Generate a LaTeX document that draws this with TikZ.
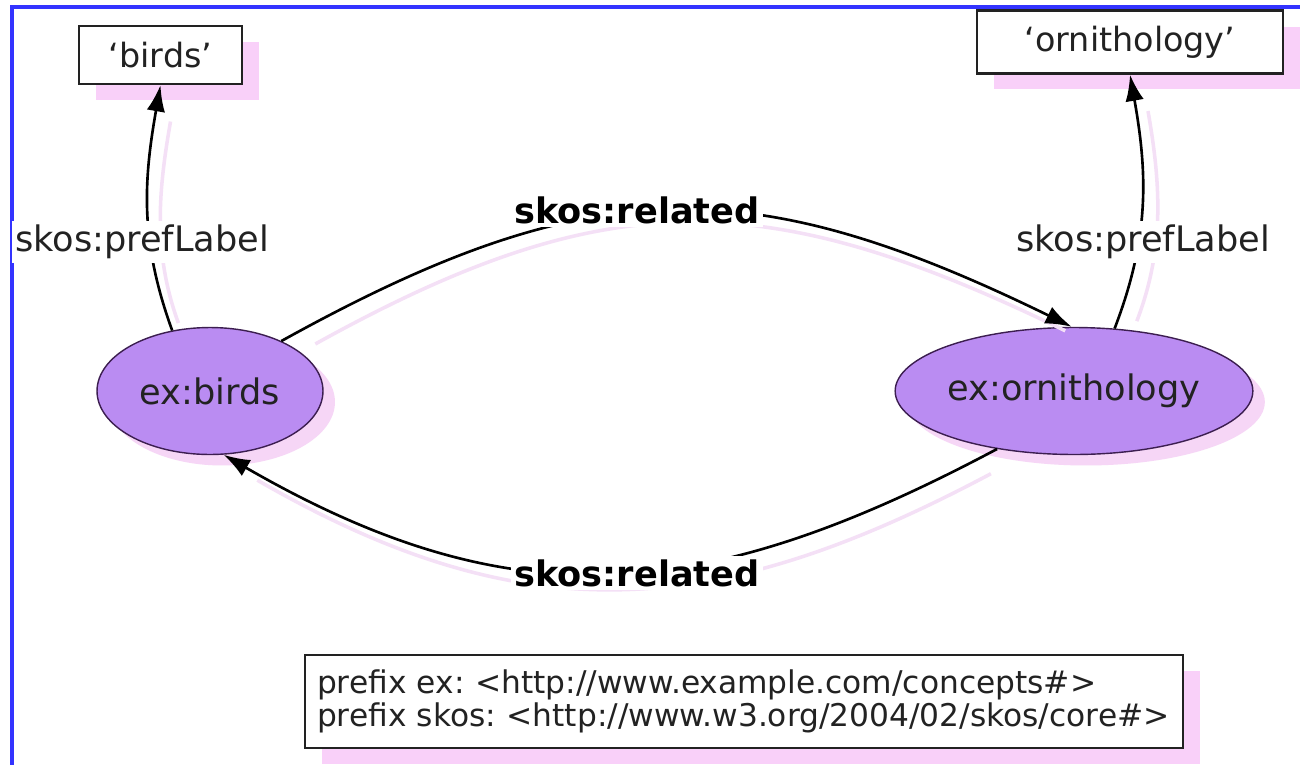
\documentclass[tikz,border=0pt]{standalone}
\usepackage{fontspec}
\setmainfont{DejaVu Sans}
\usetikzlibrary{shapes.geometric,arrows.meta,shadows}

\definecolor{conceptfill}{RGB}{186,140,242}
\definecolor{conceptline}{RGB}{60,30,80}
\definecolor{boxshadow}{RGB}{249,208,249}
\definecolor{ellshadow}{RGB}{246,214,246}
\definecolor{lineshadow}{RGB}{244,224,246}
\definecolor{framecol}{RGB}{51,51,255}
\definecolor{textdark}{RGB}{34,34,34}

\tikzset{
  concept/.style={ellipse, draw=conceptline, line width=0.8pt, fill=conceptfill,
    inner sep=0pt, text=textdark, font=\fontsize{20}{24}\selectfont,
    drop shadow={shadow xshift=0.24cm, shadow yshift=-0.22cm, fill=ellshadow, opacity=1}},
  literal/.style={rectangle, draw=textdark, line width=1.2pt, fill=white,
    inner sep=0pt, text=textdark, font=\fontsize{19}{23}\selectfont,
    drop shadow={shadow xshift=0.34cm, shadow yshift=-0.32cm, fill=boxshadow, opacity=1}},
  rel/.style={-{Latex[length=15pt,width=10.5pt]}, line width=1.5pt, draw=black,
    preaction={draw=lineshadow, -, line width=2pt, shorten <=13pt, shorten >=13pt,
      transform canvas={shift={(14,14)}}}},
  lab/.style={fill=white, inner sep=2pt, text=textdark, font=\fontsize{20}{24}\selectfont},
  blab/.style={lab, font=\fontsize{20}{24}\selectfont\bfseries, text=black},
}

\begin{document}
\begin{tikzpicture}[x=0.02cm, y=-0.02cm]
  \path[use as bounding box] (0,0) rectangle (1300,764);
  \clip (0,0) rectangle (1300,764);
  \fill[white] (0,0) rectangle (1300,764);
  \draw[framecol, line width=2.5pt] (12,7) rectangle (1340,800);

  % concepts
  \node[concept, minimum width=4.52cm, minimum height=2.54cm] (birds) at (210,391) {ex:birds};
  \node[concept, minimum width=6.76cm, minimum height=2.54cm] (ornith) at (1074,391) {ex:ornithology};

  % literals
  \node[literal, minimum width=3.26cm, minimum height=1.16cm] (lbirds) at (160.5,55) {`birds'};
  \node[literal, minimum width=6.12cm, minimum height=1.26cm] (lornith) at (1130,42) {`ornithology'};

  % relations
  \draw[rel] (birds.122) to[out=110, in=-100] (lbirds.south);
  \draw[rel] (ornith.57) to[out=69, in=-80] (lornith.south);
  \draw[rel] (birds.35) to[out=29, in=154, looseness=1.15] (ornith.92);
  \draw[rel] (ornith.217) to[out=208, in=-30, looseness=1.1] (birds.282);

  % edge labels
  \node[lab] (plbirds) at (142,242) {skos:prefLabel};
  \node[lab] (plornith) at (1143,242) {skos:prefLabel};
  \node[blab] (reltop) at (637,210) {skos:related};
  \node[blab] (relbot) at (637,573) {skos:related};

  % prefixes
  \node[literal, minimum width=17.56cm, minimum height=1.86cm, text width=17.08cm,
    align=left, font=\fontsize{17.8}{19}\selectfont\frenchspacing] (prefixes) at (744,701.5)
    {prefix ex: <http://www.example.com/concepts\#>\\
     prefix skos: <http://www.w3.org/2004/02/skos/core\#>};
\end{tikzpicture}
\end{document}
